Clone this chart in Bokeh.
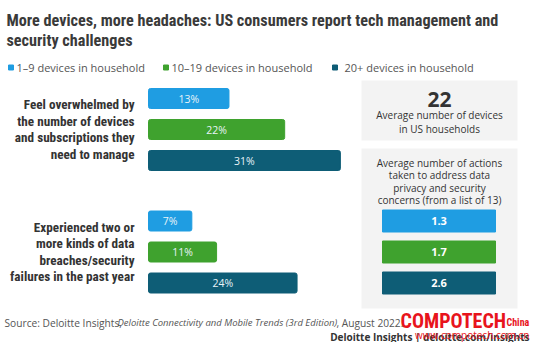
from bokeh.plotting import figure
from bokeh.models import Range1d, Label
from bokeh.core.properties import value
from bokeh.embed import file_html
from bokeh.resources import INLINE

# ---------------- data ----------------
title_lines = ["More devices, more headaches: US consumers report tech management and",
               "security challenges"]
series = ["1–9 devices in household", "10–19 devices in household", "20+ devices in household"]
colors = ["#1f9de2", "#3fa22e", "#0e5d76"]
category_lines = [
    ["Feel overwhelmed by", "the number of devices", "and subscriptions they", "need to manage"],
    ["Experienced two or", "more kinds of data", "breaches/security", "failures in the past year"],
]
overwhelmed = [13, 22, 31]
breaches = [7, 11, 24]
avg_devices = 22
avg_devices_text = ["Average number of devices", "in US households"]
actions_text = ["Average number of actions", "taken to address data", "privacy and security",
                "concerns (from a list of 13)"]
actions = [1.3, 1.7, 2.6]
source_parts = ["Source: Deloitte Insights, ",
                "Deloitte Connectivity and Mobile Trends (3rd Edition)",
                ", August 2022."]
footer = "Deloitte Insights | deloitte.com/insights"

# ---------------- layout ----------------
W, H = 530, 342
S = 6.19          # px per percent
X0 = 148          # bar baseline in px
GROUP_Y = [98, 220.5]
STEP = 31
BAR_H = 20
COND = "'Roboto Condensed', 'Liberation Sans Narrow', 'Open Sans Condensed', 'Arial Narrow', sans-serif"
BODY = "Open Sans"
DARK = "#333333"

p = figure(width=W, height=H, x_range=Range1d(0, W), y_range=Range1d(H, 0),
           output_backend="svg", toolbar_location=None, min_border=0,
           x_axis_location=None, y_axis_location=None,
           outline_line_color=None, background_fill_color="white",
           border_fill_color="white")
p.grid.visible = False
p.extra_x_ranges = {"pct": Range1d(-X0 / S, (W - X0) / S)}


def txt(x, y, t, size, color=DARK, font=BODY, style="normal", align="left"):
    p.add_layout(Label(x=x, y=y, text=t, text_font=font, text_font_size=f"{size}px",
                       text_font_style=style, text_color=color, text_align=align,
                       text_baseline="middle"))


# title
for i, line in enumerate(title_lines):
    txt(6, 20 + i * 20, line, 16.2, color="#3a3a3a", font=COND, style="bold")

# legend
leg_x = [8, 163, 332]
for lx, name, c in zip(leg_x, series, colors):
    p.rect(x=lx + 2.5, y=67, width=5, height=5, color=c)
    txt(lx + 8 if lx != 332 else lx + 12, 67, name, 11, color="#555555")

# main bars
for gi, vals in enumerate([overwhelmed, breaches]):
    ys = [GROUP_Y[gi] + i * STEP for i in range(len(vals))]
    p.hbar(y=ys, left=0, right=vals, height=BAR_H, color=colors, x_range_name="pct",
           border_radius=2)
    p.text(x=[v / 2 for v in vals], y=ys, text=[f"{v}%" for v in vals], x_range_name="pct",
           text_align="center", text_baseline="middle", text_font=value(BODY),
           text_font_size="10.5px", text_color="#e8f3f8")
    mid = GROUP_Y[gi] + STEP
    lines = category_lines[gi]
    for li, line in enumerate(lines):
        txt(134, mid + (li - (len(lines) - 1) / 2) * 16.5, line, 13.2, font=COND,
            style="bold", align="right")

# right panel
p.quad(left=[361, 361], right=[517, 517], top=[80, 148], bottom=[140, 308],
       fill_color="#f3f3f3", line_color=None)
txt(439, 99, str(avg_devices), 21, style="bold", align="center")
for i, line in enumerate(avg_devices_text):
    txt(439, 114 + i * 14, line, 10, align="center")
for i, line in enumerate(actions_text):
    txt(439, 162 + i * 12.5, line, 10, align="center")
ys2 = [GROUP_Y[1] + i * STEP for i in range(len(actions))]
p.rect(x=438.5, y=ys2, width=113, height=22, color=colors)
p.text(x=[438.5] * len(actions), y=ys2, text=[f"{a:.1f}" for a in actions],
       text_align="center", text_baseline="middle", text_font=value(BODY),
       text_font_style="bold", text_font_size="11px", text_color="white")

# source
txt(4, 322, source_parts[0], 10.2, color="#555555")
txt(117, 322, source_parts[1], 9.5, color="#555555", style="italic")
txt(336, 322, source_parts[2], 10.2, color="#555555")

# footer
txt(529, 336, footer, 10, color="#333333", style="bold", align="right")

# watermark
txt(400, 320, "COMPOTECH", 20, color="#e8141c", font=COND, style="bold")
txt(506, 322, "China", 10, color="#e8141c", font=COND, style="bold")
txt(529, 334, "www.compotech.com.cn", 10, color="#e8141c", align="right")

open("out.html", "w").write(file_html(p, INLINE))
